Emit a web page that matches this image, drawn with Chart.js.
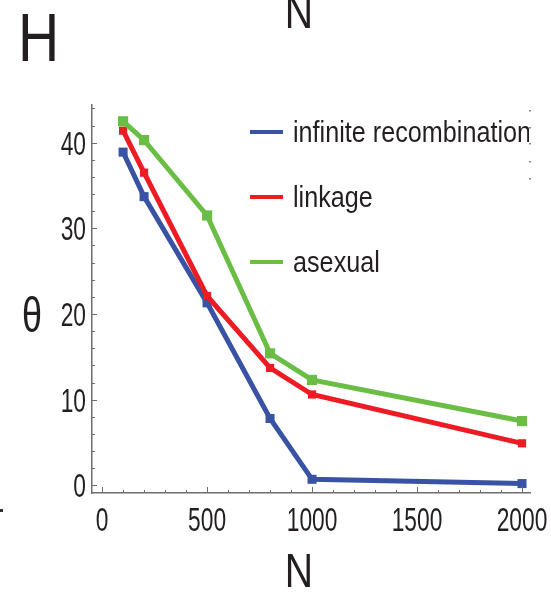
<!DOCTYPE html>
<html>
<head>
<meta charset="utf-8">
<script src="https://cdn.jsdelivr.net/npm/chart.js@4.4.1/dist/chart.umd.min.js"></script>
<style>
  body { margin: 0; background: #fff; }
</style>
</head>
<body>
<canvas id="thetaChart" width="551" height="592"></canvas>
<script>
let nValues = [100, 200, 500, 800, 1000, 2000];
let infiniteRecomb = [38.9, 33.7, 21.3, 7.8, 0.7, 0.2];
let linkage = [41.4, 36.5, 22.1, 13.7, 10.6, 4.9];
let asexual = [42.5, 40.3, 31.5, 15.4, 12.3, 7.5];
let seriesNames = ['infinite recombination', 'linkage', 'asexual'];
let colorHex = ['#3953a4', '#ed1c24', '#6abd45'];
let xTicks = [0, 500, 1000, 1500, 2000];
let yTicks = [0, 10, 20, 30, 40];

const fontName = '"Liberation Sans", Arial, sans-serif';
const ink = '#231f20';
const axisGray = '#6d6e71';

function toPoints(ys) {
  return nValues.map((n, i) => ({ x: n, y: ys[i] }));
}

// canvas text squeezed horizontally (the original lettering is condensed)
function squeezeText(c, text, x, y, size, sx, align) {
  c.save();
  c.translate(x, y);
  c.scale(sx, 1);
  c.font = size + 'px ' + fontName;
  c.textAlign = align;
  c.textBaseline = 'alphabetic';
  c.fillStyle = ink;
  c.fillText(text, 0, 0);
  c.restore();
}

const decorations = {
  id: 'decorations',
  afterDraw(chart) {
    const c = chart.ctx;
    const xs = chart.scales.x;
    const ys = chart.scales.y;
    const area = chart.chartArea;

    // inward ticks
    c.save();
    c.strokeStyle = axisGray;
    c.lineWidth = 1;
    c.beginPath();
    for (let v = 0; v <= xs.max; v += 100) {
      let px = Math.round(xs.getPixelForValue(v)) + 0.5;
      let len = v % 500 === 0 ? 6 : 3;
      c.moveTo(px, area.bottom);
      c.lineTo(px, area.bottom - len);
    }
    for (let v = 0; v <= ys.max; v += 2) {
      let py = Math.round(ys.getPixelForValue(v)) + 0.5;
      let len = v % 10 === 0 ? 5 : 3;
      c.moveTo(area.left, py);
      c.lineTo(area.left + len, py);
    }
    c.stroke();
    c.restore();

    // tick labels
    xTicks.forEach(v => {
      squeezeText(c, String(v), xs.getPixelForValue(v), 531, 34, 0.67, 'center');
    });
    yTicks.forEach(v => {
      squeezeText(c, String(v), 86, ys.getPixelForValue(v) + 12, 34, 0.67, 'right');
    });

    // axis titles and panel letters
    squeezeText(c, 'N', 299, 587, 49, 0.8, 'center');
    squeezeText(c, 'θ', 32, 332, 50, 0.72, 'center');
    squeezeText(c, 'N', 299, 28, 49, 0.8, 'center');
    squeezeText(c, 'H', 18, 61, 68, 0.84, 'left');

    // legend inside the plot
    c.save();
    c.beginPath();
    c.rect(0, 0, 529, 592);
    c.clip();
    seriesNames.forEach((name, i) => {
      let ly = 132 + 65 * i;
      c.strokeStyle = colorHex[i];
      c.lineWidth = 4;
      c.beginPath();
      c.moveTo(250, ly);
      c.lineTo(283, ly);
      c.stroke();
      squeezeText(c, name, 293, ly + 10, 30, 0.84, 'left');
    });
    c.restore();

    // stray marks from neighbouring panels
    c.fillStyle = '#888';
    [110, 127, 143, 161, 178].forEach(y => c.fillRect(529, y, 2, 1.5));
    c.fillStyle = '#333';
    c.fillRect(0, 509, 3, 3);
  }
};

const ctx = document.getElementById('thetaChart').getContext('2d');
const thetaChart = new Chart(ctx,
  {
    type: 'line',
    data:
    {
      datasets:
        [{
          label: seriesNames[0],
          data: toPoints(infiniteRecomb),
          borderColor: colorHex[0],
          backgroundColor: colorHex[0],
          pointRadius: 6.4,
          order: 3
        },
        {
          label: seriesNames[1],
          data: toPoints(linkage),
          borderColor: colorHex[1],
          backgroundColor: colorHex[1],
          pointRadius: 5.8,
          order: 2
        },
        {
          label: seriesNames[2],
          data: toPoints(asexual),
          borderColor: colorHex[2],
          backgroundColor: colorHex[2],
          pointRadius: 7.2,
          order: 1
        }]
    },
    options:
    {
      responsive: false,
      animation: false,
      layout:
      {
        padding: { top: 105, right: 21, left: 0, bottom: 0 }
      },
      elements:
      {
        line: { borderWidth: 5, tension: 0 },
        point: { pointStyle: 'rect', borderWidth: 0 }
      },
      plugins:
      {
        legend: { display: false },
        tooltip: { enabled: false }
      },
      scales:
      {
        x:
        {
          type: 'linear',
          min: -48,
          max: 2038,
          grid: { display: false },
          ticks: { display: false },
          border: { color: axisGray, width: 1.5 },
          afterFit: (scale) => { scale.height = 99; }
        },
        y:
        {
          type: 'linear',
          min: -0.9,
          max: 44.4,
          grid: { display: false },
          ticks: { display: false },
          border: { color: axisGray, width: 1.5 },
          afterFit: (scale) => { scale.width = 92; }
        }
      }
    },
    plugins: [decorations]
  })
</script>
</body>
</html>
